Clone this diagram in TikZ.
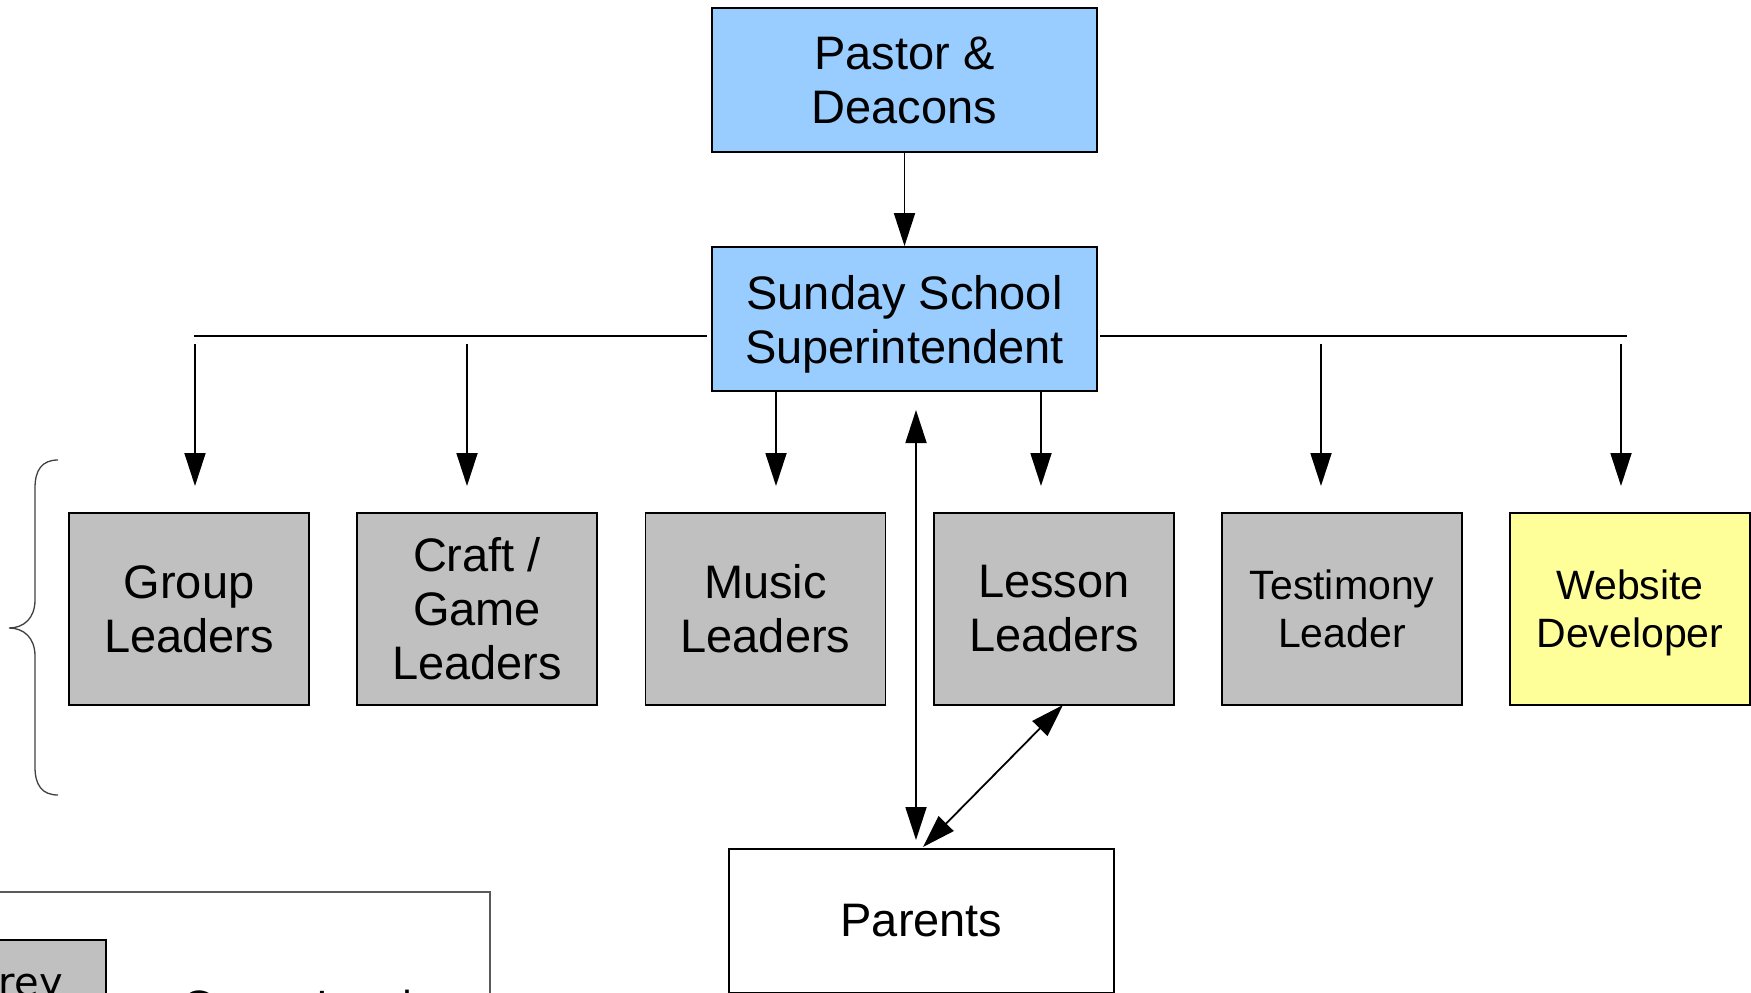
\documentclass[tikz,border=0pt]{standalone}
\usepackage{fontspec}
\setmainfont{Liberation Sans}
\newfontfamily\legfont{DejaVu Sans}
\usetikzlibrary{arrows.meta}
\definecolor{bluefill}{HTML}{99CCFF}
\definecolor{greyfill}{HTML}{C0C0C0}
\definecolor{yellowfill}{HTML}{FFFF99}
\newcommand{\nodepth}[1]{\raisebox{0pt}[\height][0pt]{#1}}
\tikzset{
  box/.style={draw=black, line width=1.8pt, rectangle, inner sep=0pt, align=center},
  topbox/.style={box, fill=bluefill, minimum width=385pt, minimum height=144pt, font=\fontsize{47}{54}\selectfont},
  leadbox/.style={box, fill=greyfill, minimum width=240pt, minimum height=192pt, font=\fontsize{47}{54}\selectfont},
  smallfont/.style={font=\fontsize{41}{48}\selectfont},
  arr/.style={line width=1.8pt, -{Triangle[length=33pt,width=21pt]}},
  darr/.style={line width=1.8pt, {Triangle[length=33pt,width=21pt]}-{Triangle[length=33pt,width=21pt]}},
  plain/.style={line width=1.8pt},
}
\begin{document}
\begin{tikzpicture}[x=1pt,y=-1pt]
\useasboundingbox (0,0) rectangle (1751,993);
% main boxes
\node[topbox] (pastor) at (904.5,80) {Pastor \&\\Deacons};
\node[topbox] (super) at (904.5,319) {Sunday School\\\nodepth{Superintendent}};
\node[leadbox] (group) at (189,609) {Group\\Leaders};
\node[leadbox] (craft) at (477,609) {Craft /\\Game\\Leaders};
\node[leadbox] (music) at (765.5,609) {Music\\Leaders};
\node[leadbox] (lesson) at (1054,609) {Lesson\\Leaders};
\node[leadbox, smallfont] (testimony) at (1342,609) {Testimony\\Leader};
\node[leadbox, smallfont, fill=yellowfill] (website) at (1630,609) {Website\\\nodepth{Developer}};
\node[box, fill=white, minimum width=385pt, minimum height=144pt, font=\fontsize{47}{54}\selectfont] (parents) at (921.5,921) {Parents};

% pastor -> super
\draw[arr] (pastor.south) -- (super.north);

% horizontal bus lines
\coordinate (busL) at (194,336);
\coordinate (busLend) at (707,336);
\coordinate (busR) at (1100,336);
\coordinate (busRend) at (1627,336);
\draw[plain] (busL) -- (busLend);
\draw[plain] (busR) -- (busRend);

% arrow start/end coordinates
\coordinate (g1) at (195,344);  \coordinate (g2) at (195,486);
\coordinate (c1) at (467,344);  \coordinate (c2) at (467,486);
\coordinate (m1) at (776,392);  \coordinate (m2) at (776,486);
\coordinate (l1) at (1041,392); \coordinate (l2) at (1041,486);
\coordinate (t1) at (1321,344); \coordinate (t2) at (1321,486);
\coordinate (w1) at (1621,344); \coordinate (w2) at (1621,486);
\draw[arr] (g1) -- (g2);
\draw[arr] (c1) -- (c2);
\draw[arr] (m1) -- (m2);
\draw[arr] (l1) -- (l2);
\draw[arr] (t1) -- (t2);
\draw[arr] (w1) -- (w2);

% super <-> parents
\coordinate (v1) at (916,410);
\coordinate (v2) at (916,840);
\draw[darr] (v1) -- (v2);
% lesson <-> parents
\coordinate (d1) at (1063,705);
\coordinate (d2) at (923,847);
\draw[darr] (d1) -- (d2);

% brace
\draw[line width=1.3pt, black!75] (58,460) .. controls (42,460) and (35,470) .. (35,488)
  -- (35,600) .. controls (35,618) and (24,628) .. (9,628)
  .. controls (24,628) and (35,638) .. (35,656)
  -- (35,767) .. controls (35,785) and (42,795) .. (58,795);

% legend (cut off)
\draw[line width=1.3pt, black!65] (-5,892) -- (490,892) -- (490,1100);
\node[draw=black, line width=1.5pt, fill=greyfill, minimum width=120pt, minimum height=120pt, inner sep=0pt] (greybox) at (46,1000) {};
\node[anchor=base east, inner sep=0pt, font=\legfont\fontsize{40}{48}\selectfont] (greytext) at (63,996) {Grey};
\node[anchor=base west, inner sep=0pt, font=\legfont\fontsize{40}{48}\selectfont] (legtext) at (182,1020) {Group Leaders};
\end{tikzpicture}
\end{document}
